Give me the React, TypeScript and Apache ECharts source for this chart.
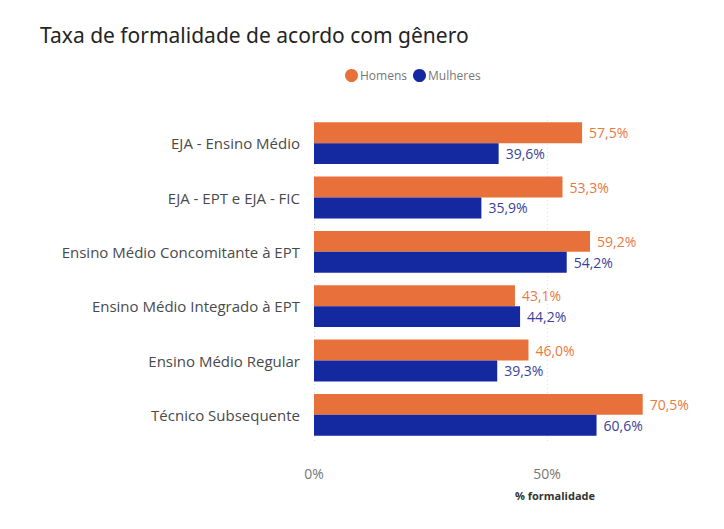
import React, { useEffect, useRef } from "react";
import * as echarts from "echarts";

const categories = [
  "EJA - Ensino Médio",
  "EJA - EPT e EJA - FIC",
  "Ensino Médio Concomitante à EPT",
  "Ensino Médio Integrado à EPT",
  "Ensino Médio Regular",
  "Técnico Subsequente",
];
const homens = [57.5, 53.3, 59.2, 43.1, 46.0, 70.5];
const mulheres = [39.6, 35.9, 54.2, 44.2, 39.3, 60.6];

const fmt = (v: number) => v.toFixed(1).replace(".", ",") + "%";

export default function App() {
  const ref = useRef<HTMLDivElement>(null);
  useEffect(() => {
    const chart = echarts.init(ref.current!, null, { renderer: "svg" });
    const font = "'Open Sans', 'Noto Sans', sans-serif";
    chart.setOption({
      animation: false,
      backgroundColor: "#ffffff",
      title: {
        text: "Taxa de formalidade de acordo com gênero",
        left: 27,
        top: 11,
        textStyle: { fontSize: 21, fontWeight: "normal", color: "#252423", fontFamily: "'Noto Sans', sans-serif" },
      },
      legend: {
        data: ["Homens", "Mulheres"],
        left: 332,
        top: 56,
        icon: "circle",
        itemWidth: 13,
        itemHeight: 13,
        itemGap: 6,
        textStyle: { color: "#777", fontSize: 12, fontFamily: font, padding: [0, 0, 0, -3] },
      },
      grid: { left: 306, top: 108, width: 373, height: 326, containLabel: false },
      xAxis: {
        type: "value",
        min: 0,
        max: 80,
        interval: 50,
        axisLine: { show: false },
        axisTick: { show: false },
        splitLine: { show: true, showMaxLine: false, lineStyle: { color: "#ddd", type: [1, 3] } },
        axisLabel: {
          formatter: (v: number) => v + "%",
          color: "#777",
          fontSize: 14,
          fontFamily: font,
          margin: 24,
          showMaxLabel: false,
        },
      },
      yAxis: {
        type: "category",
        data: categories,
        inverse: true,
        axisLine: { show: false },
        axisTick: { show: false },
        axisLabel: { color: "#4a4a4a", fontSize: 15, fontFamily: font, margin: 14 },
      },
      graphic: [
        {
          type: "text",
          x: 547,
          y: 487,
          style: {
            text: "% formalidade",
            fill: "#333",
            fontSize: 11,
            fontWeight: "bold",
            fontFamily: font,
            align: "center",
            verticalAlign: "middle",
          },
        },
      ],
      series: [
        {
          name: "Homens",
          type: "bar",
          data: homens,
          barGap: "0%",
          barCategoryGap: "23%",
          itemStyle: { color: "#E8703A" },
          label: {
            show: true,
            position: "right",
            distance: 7,
            formatter: (p: any) => fmt(p.value),
            color: "#E8793F",
            fontSize: 14,
            fontFamily: font,
          },
        },
        {
          name: "Mulheres",
          type: "bar",
          data: mulheres,
          itemStyle: { color: "#1428A0" },
          label: {
            show: true,
            position: "right",
            distance: 7,
            formatter: (p: any) => fmt(p.value),
            color: "#3A3F9A",
            fontSize: 14,
            fontFamily: font,
          },
        },
      ],
    });
    return () => chart.dispose();
  }, []);
  return <div ref={ref} style={{ width: 708, height: 513 }} />;
}
